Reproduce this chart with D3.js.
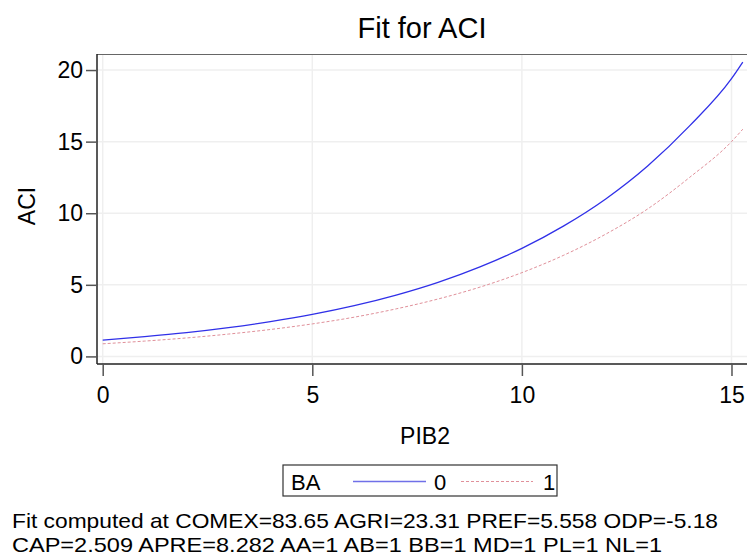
<!DOCTYPE html>
<html>
<meta charset="utf-8">
<style>
body{ margin:0; background:#fff; }
svg text{ font-family:"Liberation Sans", Arial, sans-serif; fill:#000; }
</style>
<body>
<svg width="747" height="556"></svg>
<script src="https://d3js.org/d3.v7.min.js"></script>
<script>

// values
var pib2 = [0, 1, 2, 3, 4, 5, 6, 7, 8, 9, 10, 11, 12, 13, 14, 15, 15.27];
var aci0 = [1.14, 1.38, 1.66, 2.01, 2.43, 2.93, 3.54, 4.28, 5.17, 6.25, 7.55, 9.12, 11.0, 13.3, 16.1, 19.4, 20.56];
var aci1 = [0.88, 1.07, 1.29, 1.56, 1.88, 2.27, 2.74, 3.32, 4.01, 4.84, 5.85, 7.07, 8.54, 10.3, 12.5, 15.0, 15.87];
var xTicks = [0, 5, 10, 15];
var yTicks = [0, 5, 10, 15, 20];
var groups = ["0", "1"];
var footer = ["Fit computed at COMEX=83.65 AGRI=23.31 PREF=5.558 ODP=-5.18",
              "CAP=2.509 APRE=8.282 AA=1 AB=1 BB=1 MD=1 PL=1 NL=1"];

var svg = d3.select("svg");
var plotL = 97, plotR = 747, plotT = 54, plotB = 364;

var x = d3.scaleLinear().domain([-0.136, 15.37]).range([plotL, plotR]);
var y = d3.scaleLinear().domain([-0.53, 21.12]).range([plotB, plotT]);

// grid
svg.append("g").selectAll("line").data(yTicks).enter().append("line")
    .attr("x1", plotL).attr("x2", plotR)
    .attr("y1", function(d) { return y(d); }).attr("y2", function(d) { return y(d); })
    .attr("stroke", "#efefef").attr("stroke-width", 1.5);
svg.append("g").selectAll("line").data(xTicks).enter().append("line")
    .attr("y1", plotT).attr("y2", plotB)
    .attr("x1", function(d) { return x(d); }).attr("x2", function(d) { return x(d); })
    .attr("stroke", "#efefef").attr("stroke-width", 1.5);

// frame top
svg.append("line").attr("x1", plotL).attr("x2", plotR).attr("y1", plotT + 0.5).attr("y2", plotT + 0.5)
    .attr("stroke", "#666").attr("stroke-width", 1);

// axes
var xAxis = svg.append("g").attr("transform", "translate(0," + plotB + ")")
    .call(d3.axisBottom(x).tickValues(xTicks).tickSize(12).tickPadding(11).tickFormat(d3.format("d")));
var yAxis = svg.append("g").attr("transform", "translate(" + plotL + ",0)")
    .call(d3.axisLeft(y).tickValues(yTicks).tickSize(11).tickPadding(3).tickFormat(d3.format("d")));
[xAxis, yAxis].forEach(function(a) {
  a.attr("font-size", 23).attr("font-family", null);
  a.select(".domain").attr("stroke", "#222").attr("stroke-width", 1.5);
  a.selectAll(".tick line").attr("stroke", "#555").attr("stroke-width", 1.5);
  a.selectAll("text").attr("fill", "#000");
});
yAxis.select(".domain").attr("d", "M0," + plotT + "V" + plotB);
xAxis.select(".domain").attr("d", "M" + plotL + ",0H" + plotR);

// curves
var line = d3.line()
    .x(function(d) { return x(d[0]); })
    .y(function(d) { return y(d[1]); })
    .curve(d3.curveMonotoneX);

svg.append("path").datum(d3.zip(pib2, aci1))
    .attr("d", line).attr("fill", "none")
    .attr("stroke", "#e0909a").attr("stroke-width", 1).attr("stroke-dasharray", "3,2");
svg.append("path").datum(d3.zip(pib2, aci0))
    .attr("d", line).attr("fill", "none")
    .attr("stroke", "#3030e8").attr("stroke-width", 1.3);

// titles
svg.append("text").attr("x", 422).attr("y", 38).attr("text-anchor", "middle")
    .style("font-size", "29px").text("Fit for ACI");
svg.append("text").attr("x", 425).attr("y", 444).attr("text-anchor", "middle")
    .style("font-size", "23px").text("PIB2");
svg.append("text").attr("transform", "translate(35,206) rotate(-90)").attr("text-anchor", "middle")
    .style("font-size", "23px").text("ACI");

// legend
var lg = svg.append("g");
lg.append("rect").attr("x", 283).attr("y", 465).attr("width", 274).attr("height", 31)
    .attr("fill", "#fff").attr("stroke", "#333").attr("stroke-width", 1.2);
lg.append("text").attr("x", 291).attr("y", 490).style("font-size", "22px").text("BA");
lg.append("line").attr("x1", 353).attr("x2", 426).attr("y1", 481.5).attr("y2", 481.5)
    .attr("stroke", "#7070e8").attr("stroke-width", 1.3);
lg.append("text").attr("x", 434).attr("y", 490).style("font-size", "22px").text(groups[0]);
lg.append("line").attr("x1", 461).attr("x2", 533).attr("y1", 481.5).attr("y2", 481.5)
    .attr("stroke", "#e0909a").attr("stroke-width", 1).attr("stroke-dasharray", "3,2");
lg.append("text").attr("x", 543).attr("y", 490).style("font-size", "22px").text(groups[1]);

// footer note
svg.append("text").attr("x", 12).attr("y", 528).style("font-size", "21px")
    .attr("textLength", 706).attr("lengthAdjust", "spacingAndGlyphs").text(footer[0]);
svg.append("text").attr("x", 12).attr("y", 552).style("font-size", "21px")
    .attr("textLength", 650).attr("lengthAdjust", "spacingAndGlyphs").text(footer[1]);

</script>
</body>
</html>
